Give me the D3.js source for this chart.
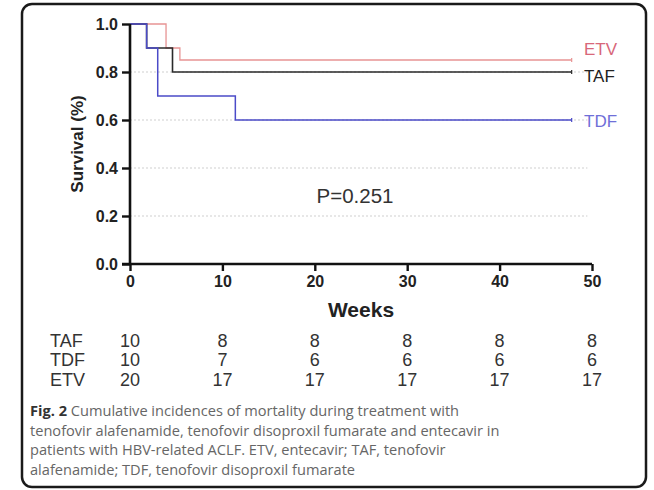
<!DOCTYPE html>
<html>
<head>
<meta charset="utf-8">
<script src="https://cdn.jsdelivr.net/npm/d3@7"></script>
<style>
  body { margin: 0; background: #fff; }
  svg { display: block; }
</style>
</head>
<body>
<div id="chart"></div>
<script>
// survival steps (weeks, survival)
var tafWeeks = [0, 1.8, 4.6, 47.8]
var tafSurv = [1, 0.9, 0.8, 0.8]
var tdfWeeks = [0, 1.8, 3.0, 11.4, 47.8]
var tdfSurv = [1, 0.9, 0.7, 0.6, 0.6]
var etvWeeks = [0, 3.9, 5.4, 47.8]
var etvSurv = [1, 0.9, 0.85, 0.85]

// number at risk
var riskWeeks = [0, 10, 20, 30, 40, 50]
var tafRisk = [10, 8, 8, 8, 8, 8]
var tdfRisk = [10, 7, 6, 6, 6, 6]
var etvRisk = [20, 17, 17, 17, 17, 17]

var xTicks = [0, 10, 20, 30, 40, 50]
var yTicks = [0, 0.2, 0.4, 0.6, 0.8, 1.0]
var gridTicks = [0.2, 0.4, 0.6, 0.8]

var captionLines = [
    'Cumulative incidences of mortality during treatment with',
    'tenofovir alafenamide, tenofovir disoproxil fumarate and entecavir in',
    'patients with HBV-related ACLF. ETV, entecavir; TAF, tenofovir',
    'alafenamide; TDF, tenofovir disoproxil fumarate'
]

;(function () {
    'use strict'

    var W = 654, H = 490
    var svg = d3.select('#chart').append('svg')
        .attr('width', W).attr('height', H)

    // rounded frame
    svg.append('rect')
        .attr('x', 22).attr('y', 4)
        .attr('width', 624).attr('height', 483)
        .attr('rx', 10).attr('ry', 10)
        .attr('fill', '#fff')
        .attr('stroke', '#1a1a1a')
        .attr('stroke-width', 2.5)

    var x = d3.scaleLinear().domain([0, 50]).range([130, 592])
    var y = d3.scaleLinear().domain([0, 1]).range([264, 24])

    var axisFont = '"Liberation Sans", Arial, sans-serif'

    // dotted grid
    svg.append('g').selectAll('line')
        .data(gridTicks)
        .enter().append('line')
        .attr('x1', x(0)).attr('x2', x(49.5))
        .attr('y1', function (d) { return y(d) })
        .attr('y2', function (d) { return y(d) })
        .attr('stroke', '#cfcfcf')
        .attr('stroke-width', 1)
        .attr('stroke-dasharray', '2,2')

    // survival curves
    var line = d3.line()
        .x(function (d) { return x(d[0]) })
        .y(function (d) { return y(d[1]) })
        .curve(d3.curveStepAfter)

    var curves = [
        { weeks: etvWeeks, surv: etvSurv, color: '#e79494', width: 1.3 },
        { weeks: tafWeeks, surv: tafSurv, color: '#2a2a2a', width: 1.6 },
        { weeks: tdfWeeks, surv: tdfSurv, color: '#4b4bc8', width: 1.5 }
    ]

    curves.forEach(function (c) {
        var pts = c.weeks.map(function (w, i) { return [w, c.surv[i]] })
        svg.append('path')
            .datum(pts)
            .attr('fill', 'none')
            .attr('stroke', c.color)
            .attr('stroke-width', c.width)
            .attr('d', line)
        var last = pts[pts.length - 1]
        svg.append('line')
            .attr('x1', x(last[0])).attr('x2', x(last[0]))
            .attr('y1', y(last[1]) - 2).attr('y2', y(last[1]) + 2)
            .attr('stroke', c.color)
            .attr('stroke-width', 1.2)
    })

    // axes
    var yAxis = d3.axisLeft(y).tickValues(yTicks)
        .tickFormat(d3.format('.1f')).tickSize(8).tickPadding(4)
    var gy = svg.append('g')
        .attr('transform', 'translate(' + x(0) + ',0)')
        .call(yAxis)

    var xAxis = d3.axisBottom(x).tickValues(xTicks).tickSize(7).tickPadding(5)
    var gx = svg.append('g')
        .attr('transform', 'translate(0,' + y(0) + ')')
        .call(xAxis)

    ;[gx, gy].forEach(function (g) {
        g.select('.domain').attr('stroke', '#111').attr('stroke-width', 2.6)
        g.selectAll('.tick line').attr('stroke', '#111').attr('stroke-width', 2.4)
        g.selectAll('.tick text')
            .attr('fill', '#222')
            .style('font-family', axisFont)
            .style('font-size', '16px')
            .style('font-weight', 'bold')
    })
    gx.select('.domain').attr('d', 'M' + (x(0) - 8) + ',0H' + x(50))
    gy.select('.domain').attr('d', 'M0,' + y(1) + 'V' + y(0))

    // axis titles
    svg.append('text')
        .attr('transform', 'translate(77,' + y(0.5) + ') rotate(-90)')
        .attr('text-anchor', 'middle')
        .attr('dy', '0.35em')
        .style('font-family', axisFont)
        .style('font-size', '17px')
        .style('font-weight', 'bold')
        .attr('fill', '#222')
        .text('Survival (%)')

    svg.append('text')
        .attr('x', x(25)).attr('y', 317)
        .attr('text-anchor', 'middle')
        .style('font-family', axisFont)
        .style('font-size', '21px')
        .style('font-weight', 'bold')
        .attr('fill', '#222')
        .text('Weeks')

    // curve labels
    var labels = [
        { name: 'ETV', v: 0.85, dy: -11, color: '#d8677a' },
        { name: 'TAF', v: 0.8, dy: 4, color: '#222' },
        { name: 'TDF', v: 0.6, dy: 1, color: '#6f6fd8' }
    ]
    svg.append('g').selectAll('text')
        .data(labels)
        .enter().append('text')
        .attr('x', 584)
        .attr('y', function (d) { return y(d.v) + d.dy })
        .attr('dy', '0.35em')
        .style('font-family', axisFont)
        .style('font-size', '17px')
        .attr('fill', function (d) { return d.color })
        .text(function (d) { return d.name })

    // p value
    svg.append('text')
        .attr('x', 355).attr('y', 196)
        .attr('text-anchor', 'middle')
        .attr('dy', '0.35em')
        .style('font-family', axisFont)
        .style('font-size', '20.5px')
        .attr('fill', '#333')
        .text('P=0.251')

    // risk table
    var riskRows = [
        { name: 'TAF', values: tafRisk },
        { name: 'TDF', values: tdfRisk },
        { name: 'ETV', values: etvRisk }
    ]
    var rowY = d3.scaleBand().domain(riskRows.map(function (r) { return r.name }))
        .range([331, 389])

    riskRows.forEach(function (r) {
        var cy = rowY(r.name) + rowY.bandwidth() / 2
        var g = svg.append('g')
            .style('font-family', axisFont)
            .style('font-size', '18px')
            .attr('fill', '#333')
        g.append('text')
            .attr('x', 50).attr('y', cy).attr('dy', '0.35em')
            .text(r.name)
        g.selectAll('text.num')
            .data(r.values)
            .enter().append('text')
            .attr('class', 'num')
            .attr('x', function (d, i) { return x(riskWeeks[i]) })
            .attr('y', cy).attr('dy', '0.35em')
            .attr('text-anchor', 'middle')
            .text(function (d) { return d })
    })

    // caption
    var cap = svg.append('g')
        .style('font-family', '"Open Sans", sans-serif')
        .style('font-size', '14.6px')
        .attr('fill', '#666')
    captionLines.forEach(function (t, i) {
        var txt = cap.append('text')
            .attr('x', 30).attr('y', 416 + i * 19.5)
        if (i === 0) {
            txt.append('tspan').attr('font-weight', 'bold').attr('fill', '#333').text('Fig. 2')
            txt.append('tspan').text(' ' + t)
        } else {
            txt.text(t)
        }
    })
})()
</script>
</body>
</html>
